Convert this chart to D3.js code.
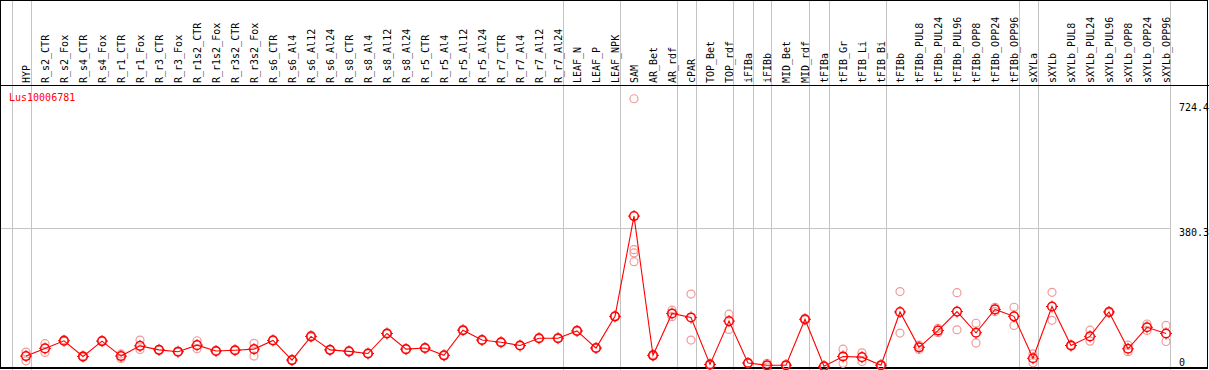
<!DOCTYPE html>
<html>
<head>
<meta charset="utf-8">
<script src="https://cdn.jsdelivr.net/npm/d3@7"></script>
<style>
  html, body { margin: 0; padding: 0; background: #fff; }
  svg { display: block; }
  text { font-family: "DejaVu Sans Mono", "Liberation Mono", monospace; font-size: 10px; }
</style>
</head>
<body>
<svg id="chart" width="1209" height="370"></svg>
<script>
const geneName = "Lus10006781";

const categories = ["HYP","R_s2_CTR","R_s2_Fox","R_s4_CTR","R_s4_Fox","R_r1_CTR","R_r1_Fox","R_r3_CTR","R_r3_Fox",
  "R_r1s2_CTR","R_r1s2_Fox","R_r3s2_CTR","R_r3s2_Fox","R_s6_CTR","R_s6_Al4","R_s6_Al12","R_s6_Al24",
  "R_s8_CTR","R_s8_Al4","R_s8_Al12","R_s8_Al24","R_r5_CTR","R_r5_Al4","R_r5_Al12","R_r5_Al24",
  "R_r7_CTR","R_r7_Al4","R_r7_Al12","R_r7_Al24","LEAF_N","LEAF_P","LEAF_NPK","SAM","AR_Bet","AR_rdf",
  "cPAR","TOP_Bet","TOP_rdf","iFIBa","iFIBb","MID_Bet","MID_rdf","tFIBa","tFIB_Gr","tFIB_Li","tFIB_Bi",
  "tFIBb","tFIBb_PUL8","tFIBb_PUL24","tFIBb_PUL96","tFIBb_OPP8","tFIBb_OPP24","tFIBb_OPP96",
  "sXYLa","sXYLb","sXYLb_PUL8","sXYLb_PUL24","sXYLb_PUL96","sXYLb_OPP8","sXYLb_OPP24","sXYLb_OPP96"];

const meanValues = [30,51,72,29,71,30,58,47,42,60,44,46,49,73,19,84,47,43,37,92,49,52,32,101,74,68,59,79,79,
  99,52,139,414,32,147,136,7,126,11,5,5,131,2,29,27,5,151,54,100,152,94,158,139,24,166,59,84,151,50,109,92];

const replicateValues = [[41,17],[64,40],[75,70],[31,27],[73,70],[36,23],[74,48],[48,46],[43,41],[72,50],
  [45,43],[47,45],[65,30],[74,72],[20,18],[86,82],[48,46],[44,42],[38,36],[93,91],[50,48],[53,51],[33,31],
  [102,100],[75,73],[69,67],[60,58],[80,78],[80,78],[100,98],[53,51],[140,138],[736,322,313,289],[34,30],
  [156,138],[200,74],[9,5],[145,103],[12,10],[10,0],[6,4],[133,129],[3,1],[49,10],[39,15],[6,4],[207,93],
  [60,48],[106,94],[204,102],[120,66],[164,152],[164,114],[36,12],[205,128],[61,57],[101,71],[153,149],
  [60,42],[118,100],[114,70]];

// indices of the first column of each group (61 = end)
const groupStarts = [0,1,29,32,35,36,38,39,40,42,43,46,53,54,61];

const tickValues = [724.4, 380.3, 0];
const tickLabels = ["724.4", "380.3", "0"];

const W = 1209, H = 370;
const svg = d3.select("#chart");

const x = d3.scaleLinear().domain([0, categories.length - 1]).range([26, 26 + 19 * (categories.length - 1)]);
const y = d3.scaleLinear().domain([0, 724.4]).range([367, 103]);

// vertical grey group separators
svg.append("g").selectAll("line").data(groupStarts).join("line")
  .attr("x1", d => Math.round(x(d) - 14.5) + 0.5).attr("x2", d => Math.round(x(d) - 14.5) + 0.5)
  .attr("y1", 0).attr("y2", H)
  .attr("stroke", "#c4c4c4").attr("stroke-width", 1).attr("shape-rendering", "crispEdges");

// grey horizontal gridline at middle tick
svg.append("line")
  .attr("x1", 0).attr("x2", Math.round(x(61) - 14.5) + 0.5)
  .attr("y1", Math.round(y(380.3)) + 0.5).attr("y2", Math.round(y(380.3)) + 0.5)
  .attr("stroke", "#c4c4c4").attr("stroke-width", 1).attr("shape-rendering", "crispEdges");

// frame
svg.append("rect").attr("x", 0.5).attr("y", 0.5).attr("width", W - 2).attr("height", H - 2.5)
  .attr("fill", "none").attr("stroke", "#000").attr("stroke-width", 1.5).attr("shape-rendering", "crispEdges");
svg.append("line").attr("x1", 0).attr("x2", W).attr("y1", 85.5).attr("y2", 85.5)
  .attr("stroke", "#000").attr("stroke-width", 1.5).attr("shape-rendering", "crispEdges");

// category labels (rotated)
svg.append("g").selectAll("text").data(categories).join("text")
  .attr("transform", (d, i) => `translate(${x(i) + 4},83) rotate(-90)`)
  .attr("text-anchor", "start")
  .attr("fill", "#000")
  .text(d => d);

// gene name
svg.append("text").attr("x", 9).attr("y", 101).attr("fill", "#ff0000").text(geneName);

// right-side axis labels
svg.append("g").selectAll("text").data(tickValues).join("text")
  .attr("x", 1179)
  .attr("y", (d, i) => d === 0 ? y(d) - 1 : y(d) + 8)
  .attr("fill", "#000")
  .text((d, i) => tickLabels[i]);

// replicate circles
const reps = [];
replicateValues.forEach((arr, i) => arr.forEach(v => reps.push({ i, v })));
svg.append("g").selectAll("circle").data(reps).join("circle")
  .attr("cx", d => x(d.i)).attr("cy", d => y(d.v)).attr("r", 4)
  .attr("fill", "none").attr("stroke", "#f09a9a").attr("stroke-width", 1.2);

// mean line
svg.append("path").datum(meanValues)
  .attr("d", d3.line().x((d, i) => x(i)).y(d => y(d)))
  .attr("fill", "none").attr("stroke", "#ff0000").attr("stroke-width", 1.1);

// mean circles with small ticks
const mg = svg.append("g").selectAll("g").data(meanValues).join("g")
  .attr("transform", (d, i) => `translate(${x(i)},${y(d)})`);
mg.append("circle").attr("r", 4.3).attr("fill", "none").attr("stroke", "#ff0000").attr("stroke-width", 1.5);
[[0,-4.5,0,-6],[0,4.5,0,6],[-4.5,0,-6,0],[4.5,0,6,0]].forEach(t => {
  mg.append("line").attr("x1", t[0]).attr("y1", t[1]).attr("x2", t[2]).attr("y2", t[3])
    .attr("stroke", "#ff0000").attr("stroke-width", 1);
});
</script>
</body>
</html>
